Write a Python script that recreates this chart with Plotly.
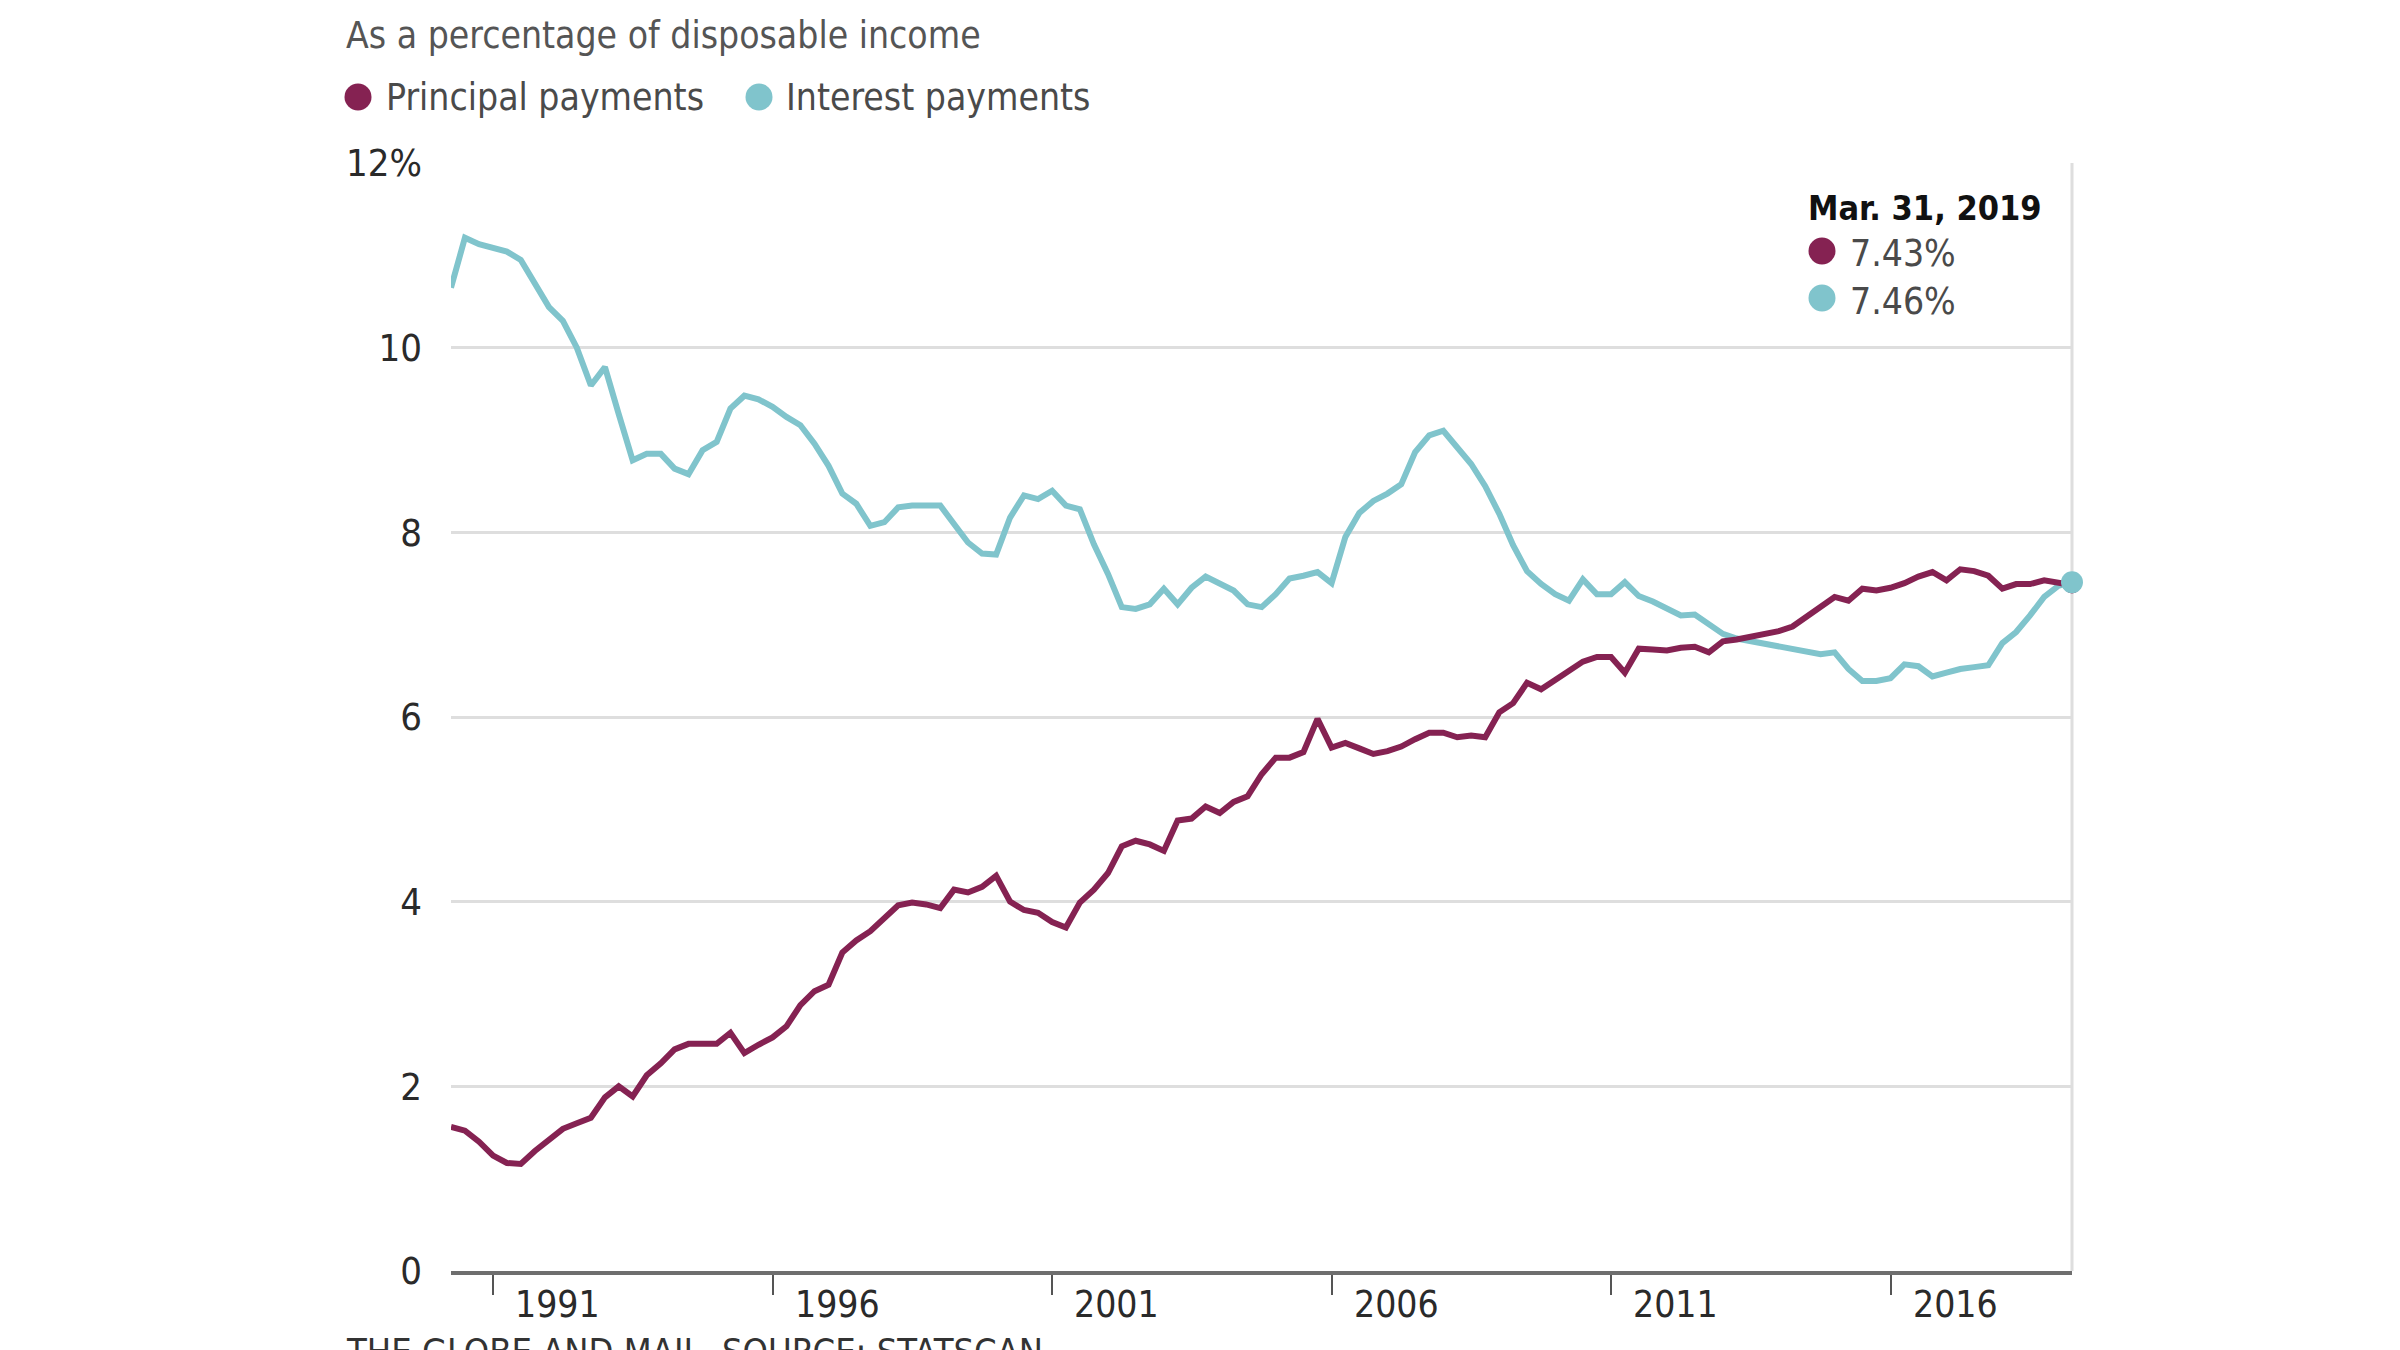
import plotly.graph_objects as go

# ---------------- data ----------------
quarters = [f"{y}-{md}" for y in range(1990, 2020)
            for md in ("03-31", "06-30", "09-30", "12-31")][:117]

principal = [
    1.56, 1.52, 1.40, 1.25, 1.17, 1.16, 1.30, 1.42, 1.54, 1.60,
    1.66, 1.88, 2.00, 1.89, 2.12, 2.25, 2.40, 2.46, 2.46, 2.46,
    2.58, 2.36, 2.45, 2.53, 2.65, 2.88, 3.03, 3.10, 3.45, 3.58,
    3.68, 3.82, 3.96, 3.99, 3.97, 3.93, 4.13, 4.10, 4.16, 4.28,
    4.00, 3.91, 3.88, 3.78, 3.72, 3.99, 4.13, 4.31, 4.60, 4.66,
    4.62, 4.55, 4.88, 4.90, 5.03, 4.96, 5.08, 5.14, 5.38, 5.56,
    5.56, 5.62, 5.98, 5.67, 5.72, 5.66, 5.60, 5.63, 5.68, 5.76,
    5.83, 5.83, 5.78, 5.80, 5.78, 6.05, 6.15, 6.37, 6.30, 6.40,
    6.50, 6.60, 6.65, 6.65, 6.48, 6.74, 6.73, 6.72, 6.75, 6.76,
    6.70, 6.82, 6.84, 6.87, 6.90, 6.93, 6.98, 7.08, 7.20, 7.30,
    7.26, 7.39, 7.37, 7.40, 7.45, 7.52, 7.57, 7.48, 7.60, 7.58,
    7.53, 7.39, 7.44, 7.44, 7.48, 7.45, 7.43,
]

interest = [
    10.65, 11.19, 11.12, 11.08, 11.04, 10.95, 10.69, 10.44, 10.29, 10.00,
    9.59, 9.79, 9.28, 8.78, 8.85, 8.85, 8.69, 8.63, 8.89, 8.98,
    9.34, 9.48, 9.44, 9.36, 9.25, 9.16, 8.96, 8.72, 8.42, 8.31,
    8.07, 8.11, 8.27, 8.29, 8.29, 8.29, 8.09, 7.89, 7.77, 7.76,
    8.16, 8.40, 8.36, 8.45, 8.29, 8.25, 7.87, 7.55, 7.19, 7.17,
    7.22, 7.39, 7.22, 7.40, 7.52, 7.44, 7.37, 7.22, 7.19, 7.33,
    7.50, 7.53, 7.57, 7.45, 7.95, 8.21, 8.34, 8.42, 8.52, 8.87,
    9.05, 9.10, 8.92, 8.74, 8.50, 8.20, 7.86, 7.58, 7.44, 7.33,
    7.26, 7.49, 7.33, 7.33, 7.46, 7.31, 7.25, 7.17, 7.10, 7.11,
    7.00, 6.90, 6.85, 6.82, 6.80, 6.77, 6.74, 6.70, 6.68, 6.70,
    6.52, 6.39, 6.39, 6.42, 6.57, 6.55, 6.44, 6.48, 6.52, 6.54,
    6.56, 6.80, 6.92, 7.10, 7.30, 7.42, 7.46,
]

year_ticks = ["1991-01-01", "1996-01-01", "2001-01-01",
              "2006-01-01", "2011-01-01", "2016-01-01"]
year_labels = ["1991", "1996", "2001", "2006", "2011", "2016"]
y_ticks = [0, 2, 4, 6, 8, 10, 12]
y_labels = ["0", "2", "4", "6", "8", "10", "12%"]

series_names = ["Principal payments", "Interest payments"]
latest_date_label = "Mar. 31, 2019"
latest_values = ["7.43%", "7.46%"]
subtitle = "As a percentage of disposable income"
footer = "THE GLOBE AND MAIL, SOURCE: STATSCAN"

# ---------------- style ----------------
W, H = 2400, 1350
L, R, T, B = 443, 2064, 155, 1263
FONT = "DejaVu Sans Condensed, sans-serif"
C_PRIN = "#852252"
C_INT = "#80c4cc"
GRID = "#dedede"
FS = 37


def px(x):
    return (x - L) / (R - L)


def py(y):
    return (B - y) / (B - T)


fig = go.Figure()
fig.add_trace(go.Scatter(x=quarters, y=interest, mode="lines",
                         line=dict(color=C_INT, width=6), name=series_names[1],
                         cliponaxis=False))
fig.add_trace(go.Scatter(x=quarters, y=principal, mode="lines",
                         line=dict(color=C_PRIN, width=6), name=series_names[0],
                         cliponaxis=False))
fig.add_trace(go.Scatter(x=[quarters[-1]], y=[principal[-1]], mode="markers",
                         marker=dict(color=C_PRIN, size=17), cliponaxis=False))
fig.add_trace(go.Scatter(x=[quarters[-1]], y=[interest[-1]], mode="markers",
                         marker=dict(color=C_INT, size=22), cliponaxis=False))

shapes = [
    dict(type="line", xref="paper", yref="paper", x0=1, x1=1, y0=0, y1=1,
         line=dict(color=GRID, width=3), layer="below"),
]


def dot(cx, cy, d, color):
    r = d / 2
    return dict(type="circle", xref="paper", yref="paper",
                xsizemode="pixel", ysizemode="pixel",
                xanchor=px(cx), yanchor=py(cy),
                x0=-r, x1=r, y0=-r, y1=r,
                fillcolor=color, line=dict(width=0))


shapes += [dot(350, 89, 27, C_PRIN), dot(751, 89, 27, C_INT),
           dot(1814, 243, 27, C_PRIN), dot(1814, 290, 27, C_INT)]

ann = []


def text(s, x, y, size=FS, color="#4a4a4a", bold=False, xanchor="left"):
    ann.append(dict(text=f"<b>{s}</b>" if bold else s,
                    xref="paper", yref="paper", x=px(x), y=py(y),
                    xanchor=xanchor, yanchor="middle", showarrow=False,
                    font=dict(family=FONT, size=size, color=color)))


text(subtitle, 336, 28, color="#555555")
text(series_names[0], 376, 89)
text(series_names[1], 776, 89)
text(latest_date_label, 1798, 200, size=34, color="#111111", bold=True)
text(latest_values[0], 1840, 246, size=37)
text(latest_values[1], 1840, 293, size=37)
text(footer, 336, 1343, size=36, color="#333333")

for xv, lab in zip(year_ticks, year_labels):
    ann.append(dict(text=lab, xref="x", yref="paper", x=xv, y=0,
                    xanchor="left", yanchor="middle", xshift=20, yshift=-33,
                    showarrow=False,
                    font=dict(family=FONT, size=FS, color="#2a2a2a")))

fig.update_layout(
    width=W, height=H,
    margin=dict(l=L, r=W - R, t=T, b=H - B, pad=0),
    paper_bgcolor="white", plot_bgcolor="white",
    showlegend=False,
    shapes=shapes, annotations=ann,
    font=dict(family=FONT, size=FS, color="#2a2a2a"),
)
fig.update_xaxes(
    type="date", range=[quarters[0], quarters[-1]],
    showgrid=False, zeroline=False,
    showline=True, linecolor="#6e6e6e", linewidth=4,
    tickvals=year_ticks, showticklabels=False,
    ticks="outside", ticklen=20, tickwidth=2, tickcolor="#555555",
)
fig.update_yaxes(
    range=[0, 12], tickvals=y_ticks, ticktext=y_labels,
    showgrid=True, gridcolor=GRID, gridwidth=3,
    zeroline=False, showline=False, ticks="",
    ticklabelstandoff=28,
    tickfont=dict(family=FONT, size=38, color="#2a2a2a"),
)

fig.write_html("out.html")
